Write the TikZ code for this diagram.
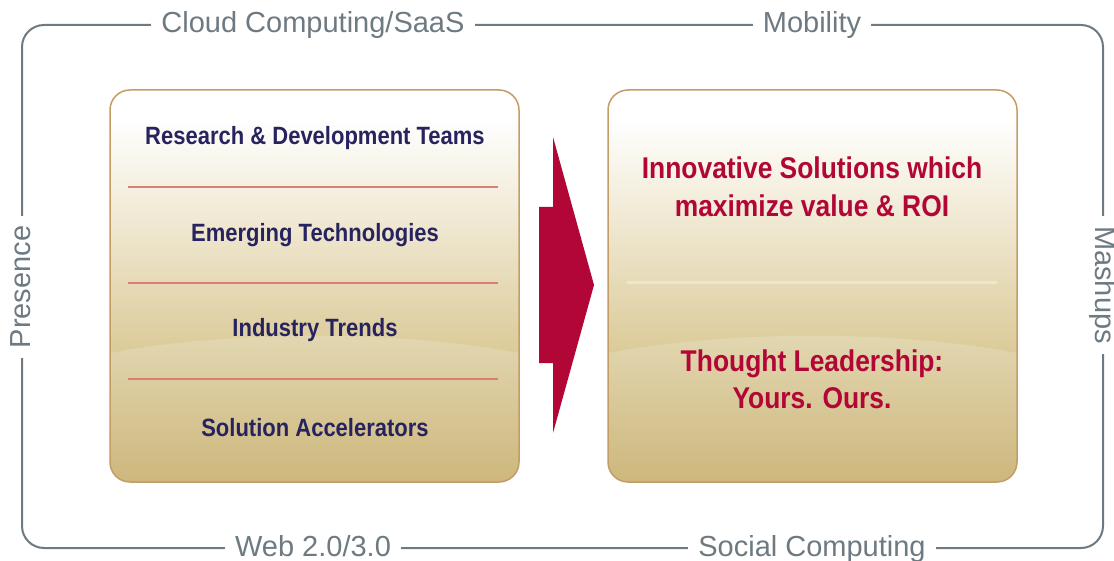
\documentclass[tikz,border=0pt]{standalone}
\usepackage{fontspec}
\setmainfont{Liberation Sans}
\newfontfamily\boxfont[FakeStretch=0.88]{Liberation Sans}
\usepackage{tikz}
\usetikzlibrary{shapes}
\tikzset{>=latex}

\definecolor{framegray}{HTML}{6E7A82}
\definecolor{boxgold}{HTML}{C49C66}
\definecolor{navy}{HTML}{27235F}
\definecolor{crimson}{HTML}{B20637}
\definecolor{seprose}{HTML}{D97C7A}
\definecolor{seppale}{HTML}{EFE7CB}
\definecolor{tanupper}{HTML}{DBCA97}
\definecolor{tanlight}{HTML}{E3D8B3}
\definecolor{tanlow}{HTML}{CDB77C}

\tikzset{
  lbl/.style={fill=white, text=framegray, font=\fontsize{29}{34}\selectfont,
    inner xsep=10pt, inner ysep=0pt, text height=16pt, text depth=0pt},
  item/.style={text=navy, font=\boxfont\bfseries\fontsize{25}{30}\selectfont, anchor=base},
  claim/.style={text=crimson, font=\boxfont\bfseries\fontsize{30}{38}\selectfont, anchor=base},
}

\begin{document}
\begin{tikzpicture}[x=1pt, y=-1pt]
      \useasboundingbox (0,0) rectangle (1114,561);
      \fill[white] (0,0) rectangle (1114,561);

      % outer frame
      \draw[framegray, line width=2pt, rounded corners=22] (22,25) rectangle (1103,548);

      % left panel
      \begin{scope}
        \clip[rounded corners=20] (110,90) rectangle (519,482);
        \fill[white] (110,90) rectangle (519,482);
        \shade[top color=white, bottom color=tanupper] (110,118) rectangle (519,356);
        \shade[top color=tanlight, bottom color=tanlow]
          (110,353) .. controls (230,330) and (400,330) .. (519,353) -- (519,482) -- (110,482) -- cycle;
      \end{scope}
      \draw[boxgold, line width=1.5pt, rounded corners=20] (110,90) rectangle (519,482);
      \draw[seprose, line width=1.5pt] (128,187) -- (498,187);
      \draw[seprose, line width=1.5pt] (128,283) -- (498,283);
      \draw[seprose, line width=1.5pt] (128,379) -- (498,379);

      \node (teams) at (315,145) [item] {Research \& Development Teams};
      \node (emerging) at (315,242) [item] {Emerging Technologies};
      \node (trends) at (315,337) [item] {Industry Trends};
      \node (accel) at (315,436) [item] {Solution Accelerators};

      % arrow
      \fill[crimson] (539,207) -- (553,207) -- (553,137) -- (594,285)
        -- (553,433) -- (553,363) -- (539,363) -- cycle;

      % right panel
      \begin{scope}
        \clip[rounded corners=20] (608,90) rectangle (1017,482);
        \fill[white] (608,90) rectangle (1017,482);
        \shade[top color=white, bottom color=tanupper] (608,118) rectangle (1017,356);
        \shade[top color=tanlight, bottom color=tanlow]
          (608,353) .. controls (728,330) and (898,330) .. (1017,353) -- (1017,482) -- (608,482) -- cycle;
      \end{scope}
      \draw[boxgold, line width=1.5pt, rounded corners=20] (608,90) rectangle (1017,482);
      \draw[seppale, line width=3pt] (627,283) -- (997,283);

      \node (innov) at (812,179) [claim] {Innovative Solutions which};
      \node (roi) at (812,217) [claim] {maximize value \& ROI};
      \node (thought) at (812,371) [claim] {Thought Leadership:};
      \node (yours) at (812,408) [claim] {Yours. Ours.};

      % frame labels
      \node (cloud) at (313,25) [lbl] {Cloud Computing/SaaS};
      \node (mobility) at (812,25) [lbl] {Mobility};
      \node (web) at (313,548) [lbl] {Web 2.0/3.0};
      \node (social) at (812,548) [lbl] {Social Computing};
      \node (presence) at (22,287) [lbl, rotate=90] {Presence};
      \node (mashups) at (1103,285) [lbl, rotate=-90] {Mashups};

    \end{tikzpicture}
\end{document}
